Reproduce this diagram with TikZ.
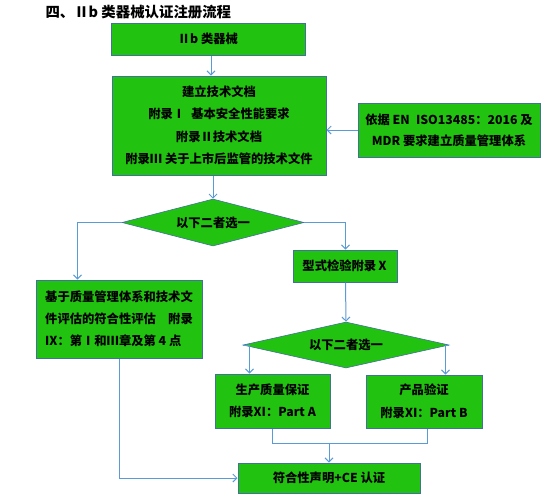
\documentclass[tikz,border=0pt]{standalone}
\usepackage{fontspec}
\newfontfamily\cjk{Noto Sans CJK SC}
\usetikzlibrary{shapes.geometric,arrows.meta,calc}
\definecolor{boxgreen}{RGB}{34,195,16}
\definecolor{boxedge}{RGB}{65,113,156}
\definecolor{linkblue}{RGB}{91,155,213}
\tikzset{
  gbox/.style={draw=boxedge,line width=1pt,fill=boxgreen,inner sep=0pt,align=center,font=\cjk\bfseries\fontsize{12.3}{22.5}\selectfont},
  gdia/.style={diamond,draw=boxedge,line width=0.6pt,fill=boxgreen,inner sep=0pt,aspect=3.9,font=\cjk\bfseries\fontsize{12.3}{14}\selectfont},
  link/.style={draw=linkblue,line width=1pt,-{Straight Barb[length=4pt,width=8pt]}},
  plain/.style={draw=linkblue,line width=1pt}
}
\begin{document}
\begin{tikzpicture}[x=1pt,y=-1pt]
\useasboundingbox (0,0) rectangle (554,496);
\node[anchor=west,font=\cjk\bfseries\fontsize{14.4}{16}\selectfont] (title) at (42,12) {四、Ⅱb 类器械认证注册流程};
\node[gbox,minimum width=194pt,minimum height=32pt] (b1) at (208,39) {Ⅱb 类器械};
\node[gbox,minimum width=214pt,minimum height=99pt] (b2) at (219,125.5) {建立技术文档\\附录Ⅰ\enspace 基本安全性能要求\\附录Ⅱ技术文档\\附录Ⅲ 关于上市后监管的技术文件};
\node[gbox,minimum width=182pt,minimum height=54pt,font=\cjk\bfseries\fontsize{12.3}{21}\selectfont] (b3) at (449,130) {依据 EN\enspace ISO13485：2016 及\\MDR 要求建立质量管理体系};
\node[gdia,minimum width=182pt,minimum height=47pt] (d1) at (213,222.5) {以下二者选一};
\node[gbox,minimum width=104pt,minimum height=32pt] (b4) at (345.5,266) {型式检验附录Ⅹ};
\node[gbox,minimum width=166pt,minimum height=78pt,align=left,font=\cjk\bfseries\fontsize{12.3}{22}\selectfont] (lb) at (119,319) {基于质量管理体系和技术文\\件评估的符合性评估\quad 附录\\Ⅸ：第Ⅰ和Ⅲ章及第 4 点};
\node[gdia,minimum width=206pt,minimum height=46pt,aspect=4.5] (d2) at (346,345) {以下二者选一};
\node[gbox,minimum width=115pt,minimum height=54pt] (b5) at (272.5,401) {生产质量保证\\附录Ⅺ：Part A};
\node[gbox,minimum width=116pt,minimum height=53pt] (b6) at (424,401.5) {产品验证\\附录Ⅺ：Part B};
\node[gbox,minimum width=182pt,minimum height=30pt] (fin) at (329,478) {符合性声明+CE 认证};
\coordinate (lbin) at ($(lb.north west)+(42,0)$);
\coordinate (b5in) at ($(b5.north west)+(35,0)$);
\coordinate (b6in) at ($(b6.north west)+(80,0)$);
\coordinate (b1out) at ($(b1.south)+(3,0)$);
\coordinate (j5) at ($(b5.south)+(0,15)$);
\coordinate (j6) at ($(b6.south)+(3,15)$);
\coordinate (jm) at ($(fin.north)+(0,-20)$);
\draw[link] (b1out) -- (b1out |- b2.north);
\draw[link] (d1.north |- b2.south) -- (d1.north);
\draw[link] (b3.west) -- (b3.west -| b2.east);
\draw[link] (d1.west) -| (lbin);
\draw[link] (d1.east) -| (b4.north);
\draw[link] (b4.south) -- (d2.north);
\draw[link] (d2.west) -| (b5in);
\draw[link] (d2.east) -| (b6in);
\draw[plain] (b5.south) -- (j5) -- (j6) -- ($(b6.south)+(3,0)$);
\draw[link] (jm) -- (fin.north);
\draw[link] (lb.south) |- (fin.west);
\end{tikzpicture}
\end{document}
